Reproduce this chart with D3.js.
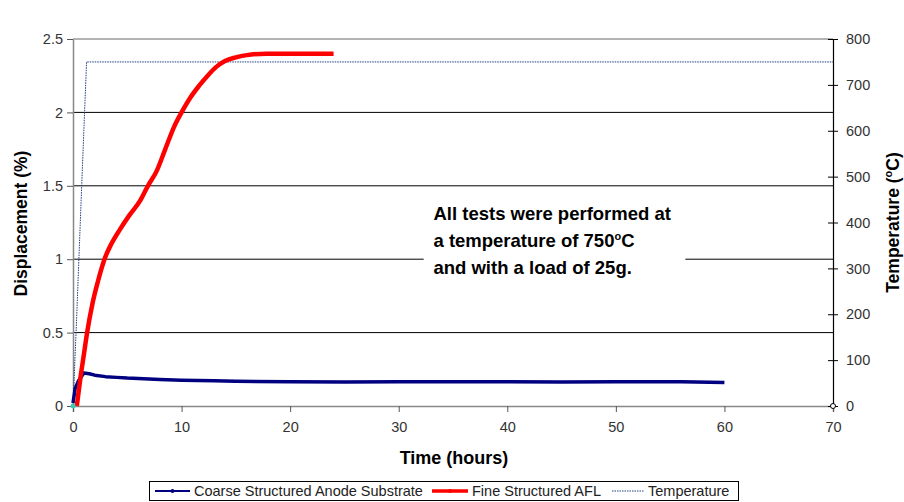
<!DOCTYPE html>
<html>
<head>
<meta charset="utf-8">
<script src="https://cdn.jsdelivr.net/npm/d3@7"></script>
<style>
  body { margin: 0; background: #fff; }
  text { font-family: Arial, "Liberation Sans", sans-serif; }
</style>
</head>
<body>
<div id="my_dataviz"></div>
<script>
// time in hours, displacement in %
const coarseTime = [0, 0.2, 0.5, 1.0, 1.5, 2, 3, 4, 5, 6.5, 8, 10, 13, 15, 20, 25, 30, 35, 40, 45, 50, 56, 60];
const coarseDisp = [0.02, 0.12, 0.17, 0.225, 0.22, 0.21, 0.2, 0.195, 0.19, 0.185, 0.18, 0.175, 0.172, 0.168, 0.165, 0.163, 0.165, 0.165, 0.165, 0.163, 0.165, 0.165, 0.16];

const fineTime = [0.35, 0.7, 1.0, 1.3, 1.8, 2.3, 2.9, 3.5, 4.3, 5.2, 6.2, 6.9, 7.7, 8.5, 9.3, 10.0, 10.8, 11.6, 12.4, 13.2, 14, 15, 16, 17.8, 20, 24];
const fineDisp = [0, 0.2, 0.35, 0.5, 0.7, 0.85, 1.0, 1.1, 1.2, 1.3, 1.4, 1.5, 1.6, 1.75, 1.9, 2.0, 2.1, 2.18, 2.25, 2.31, 2.35, 2.375, 2.39, 2.4, 2.4, 2.4];

const tempTime = [0, 0.3, 0.8, 1.25, 70];
const tempVal = [0, 170, 480, 750, 750];

const xTicks = [0, 10, 20, 30, 40, 50, 60, 70];
const yTicks = [0, 0.5, 1, 1.5, 2, 2.5];
const y2Ticks = [0, 100, 200, 300, 400, 500, 600, 700, 800];
const noteLines = ["All tests were performed at", "a temperature of 750", "and with a load of 25g."];
const legendNames = ["Coarse Structured Anode Substrate", "Fine Structured AFL", "Temperature"];

const width = 904, height = 502;
const marginLeft = 73, marginTop = 39, plotW = 760, plotH = 367;

const svg = d3.select("#my_dataviz")
    .append("svg")
    .attr("width", width)
    .attr("height", height);

const g = svg.append("g")
    .attr("transform", `translate(${marginLeft},${marginTop})`);

const x = d3.scaleLinear().domain([0, 70]).range([0, plotW]);
const y = d3.scaleLinear().domain([0, 2.5]).range([plotH, 0]);
const y2 = d3.scaleLinear().domain([0, 800]).range([plotH, 0]);

// gridlines
g.selectAll(".grid")
    .data(yTicks.filter(d => d > 0 && d < 2.5))
    .join("line")
    .attr("x1", 0).attr("x2", plotW)
    .attr("y1", d => y(d)).attr("y2", d => y(d))
    .attr("stroke", "#000").attr("stroke-width", 1);

// top border
g.append("line")
    .attr("x1", 0).attr("x2", plotW).attr("y1", 0).attr("y2", 0)
    .attr("stroke", "#999").attr("stroke-width", 1.5);

// axes
const xAxis = g.append("g")
    .attr("transform", `translate(0,${plotH})`)
    .call(d3.axisBottom(x).tickValues(xTicks).tickSize(6).tickPadding(10));
xAxis.select(".domain").attr("stroke", "#888").attr("stroke-width", 1.5);
xAxis.selectAll(".tick line").attr("stroke", "#555");

const yAxis = g.append("g")
    .call(d3.axisLeft(y).tickValues(yTicks).tickSizeInner(6).tickSizeOuter(0).tickPadding(4).tickFormat(d3.format("")));
yAxis.select(".domain").attr("stroke", "#888").attr("stroke-width", 1.5);
yAxis.selectAll(".tick line").attr("stroke", "#555");

const y2Axis = g.append("g")
    .attr("transform", `translate(${plotW},0)`)
    .call(d3.axisRight(y2).tickValues(y2Ticks).tickSizeInner(5).tickSizeOuter(0).tickPadding(8));
y2Axis.select(".domain").attr("stroke", "#000").attr("stroke-width", 1.2);
y2Axis.selectAll(".tick line").attr("stroke", "#000").attr("x1", -5);

svg.selectAll(".tick text")
    .attr("font-size", 14.5)
    .attr("fill", "#333");

// text box
const note = g.append("g");
note.append("rect")
    .attr("x", x(32.3)).attr("y", y(1.38))
    .attr("width", x(56.4) - x(32.3)).attr("height", y(0.85) - y(1.38))
    .attr("fill", "#fff");
const noteText = note.append("text")
    .attr("font-size", 18.5).attr("font-weight", "bold").attr("fill", "#000");
noteLines.forEach((t, i) => {
    noteText.append("tspan")
        .attr("x", x(33.2)).attr("y", 181 + i * 27)
        .text(t);
});
noteText.selectAll("tspan").filter((d, i) => i === 1)
    .each(function () {
        const sel = d3.select(this);
        sel.append("tspan").attr("dy", -7).attr("font-size", 11).text("o");
        sel.append("tspan").attr("dy", 7).text("C");
    });

// lines
const line = d3.line().x(d => x(d[0])).y(d => d[1]);

g.append("path")
    .datum(tempTime.map((t, i) => [t, y2(tempVal[i])]))
    .attr("fill", "none")
    .attr("stroke", "#1f3f80")
    .attr("stroke-width", 1)
    .attr("stroke-dasharray", "1.5,1")
    .attr("d", line);

g.append("path")
    .datum(coarseTime.map((t, i) => [t, y(coarseDisp[i])]))
    .attr("fill", "none")
    .attr("stroke", "#000080")
    .attr("stroke-width", 3.5)
    .attr("stroke-linejoin", "round")
    .attr("d", line);

g.append("path")
    .datum(fineTime.map((t, i) => [t, y(fineDisp[i])]))
    .attr("fill", "none")
    .attr("stroke", "#ff0000")
    .attr("stroke-width", 4.5)
    .attr("stroke-linejoin", "round")
    .attr("d", d3.line().curve(d3.curveMonotoneX).x(d => x(d[0])).y(d => d[1]));

// markers at origin and right axis
g.append("circle").attr("cx", x(0)).attr("cy", y(0)).attr("r", 2.5).attr("fill", "#3cc8b4");
g.append("circle").attr("cx", x(70)).attr("cy", y(0)).attr("r", 2.5)
    .attr("fill", "#fff").attr("stroke", "#000").attr("stroke-width", 1);

// axis titles
svg.append("text")
    .attr("transform", `translate(27,${marginTop + plotH / 2 + 1}) rotate(-90)`)
    .attr("text-anchor", "middle")
    .attr("font-size", 17.5).attr("font-weight", "bold")
    .text("Displacement (%)");

const t2 = svg.append("text")
    .attr("transform", `translate(899,${marginTop + plotH / 2}) rotate(-90)`)
    .attr("text-anchor", "middle")
    .attr("font-size", 17.5).attr("font-weight", "bold");
t2.append("tspan").text("Temperature (");
t2.append("tspan").attr("dy", -7).attr("font-size", 11).text("o");
t2.append("tspan").attr("dy", 7).text("C)");

svg.append("text")
    .attr("x", 454).attr("y", 464)
    .attr("text-anchor", "middle")
    .attr("font-size", 18).attr("font-weight", "bold")
    .text("Time (hours)");

// legend
const lg = svg.append("g");
lg.append("rect")
    .attr("x", 149.5).attr("y", 481.5).attr("width", 589).attr("height", 19)
    .attr("fill", "#fff").attr("stroke", "#000").attr("stroke-width", 1);

const legendX = [155, 432, 612];
const legendStyles = [
    { stroke: "#000080", w: 2, dash: null, marker: "#000080", len: 35 },
    { stroke: "#ff0000", w: 3.5, dash: null, marker: "#ff0000", len: 36 },
    { stroke: "#1f3f80", w: 1, dash: "1.5,1", marker: null, len: 32 }
];
legendNames.forEach((name, i) => {
    const s = legendStyles[i];
    lg.append("line")
        .attr("x1", legendX[i]).attr("x2", legendX[i] + s.len)
        .attr("y1", 491).attr("y2", 491)
        .attr("stroke", s.stroke).attr("stroke-width", s.w)
        .attr("stroke-dasharray", s.dash);
    if (s.marker) {
        lg.append("circle").attr("cx", legendX[i] + s.len / 2).attr("cy", 491).attr("r", 2)
            .attr("fill", s.marker);
    }
    lg.append("text")
        .attr("x", legendX[i] + s.len + 4).attr("y", 496)
        .attr("font-size", 14.5).attr("fill", "#222")
        .text(name);
});
</script>
</body>
</html>
